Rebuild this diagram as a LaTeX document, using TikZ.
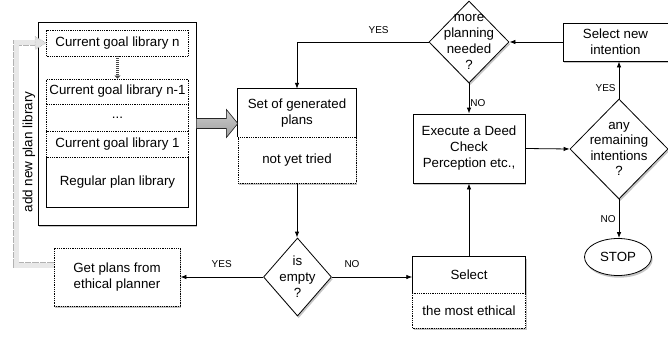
\documentclass[tikz,border=0pt]{standalone}
\usepackage{fontspec}
\setmainfont{Liberation Sans}
\usetikzlibrary{shapes.geometric,arrows.meta,shadows,calc}
\begin{document}
\begin{tikzpicture}[x=1pt,y=-1pt,
  font=\fontsize{13.3}{16}\selectfont,
  >={Latex[length=6pt,width=4.5pt]},
  shad/.style={drop shadow={shadow xshift=1.2pt,shadow yshift=-2.2pt,opacity=0.45}},
  sbox/.style={draw,fill=white,rectangle,inner sep=0,align=center,line width=0.8pt},
  dbox/.style={sbox,densely dotted},
  plain/.style={rectangle,inner sep=0,align=center},
  dia/.style={draw,fill=white,diamond,inner sep=0,line width=0.8pt},
  lbl/.style={font=\fontsize{10}{12}\selectfont,inner sep=0},
  conn/.style={->,line width=0.8pt}]
\useasboundingbox (0,0) rectangle (668,337);

% left library stack
\node[sbox,shad,minimum width=158,minimum height=203] (lib) at (117,123.5) {};
\node[plain,minimum width=142,minimum height=50] (reg) at (117.5,182) {Regular plan library};
\draw[line width=0.8pt] (reg.north west) -- (reg.south west) -- (reg.south east) -- (reg.north east);
\node[dbox,minimum width=142,minimum height=26] (gn) at (117.5,43) {Current goal library n};
\node[dbox,minimum width=142,minimum height=25] (g1n) at (117.5,91.5) {Current goal library n-1};
\node[dbox,minimum width=142,minimum height=27] (gdots) at (117.5,117.5) {...};
\node[dbox,minimum width=142,minimum height=26] (g1) at (117.5,144) {Current goal library 1};
\draw[line width=3.6pt, gray!55!black, dash pattern=on 1pt off 1pt,
      -{Triangle[length=3pt,width=6pt]}] (gn.south) -- (g1n.north);

% add new plan library band
\node[rotate=90,font=\fontsize{13.5}{16}\selectfont] (addlbl) at (29,152) {add new plan library};

% set of generated plans
\node[fill=white,shad,minimum width=118,minimum height=94,inner sep=0] (set) at (297,136) {};
\node[plain,minimum width=118,minimum height=48] (setT) at (297,113) {Set of generated\\plans};
\draw[line width=0.8pt] (setT.south west) -- (setT.north west) -- (setT.north east) -- (setT.south east);
\node[dbox,minimum width=118,minimum height=46] (setB) at (297,160) {not yet tried};

% big arrow
\filldraw[top color=gray!40, bottom color=gray!75, draw=gray!30!black, line width=0.6pt]
  ($(lib.east)+(0,-5)$) -- ($(lib.east)+(30,-5)$) -- ($(lib.east)+(30,-14)$) --
  (setT.west |- lib.east) -- ($(lib.east)+(30,14)$) -- ($(lib.east)+(30,5)$) --
  ($(lib.east)+(0,5)$) -- cycle;

% get plans
\node[dbox,shad,minimum width=126,minimum height=58] (getp) at (117,277) {Get plans from\\ethical planner};
\coordinate (gb1) at ($(getp.west)+(0,-12)$);
\coordinate (gb2) at ($(gn.west)+(-30,0)$);
\coordinate (gb3) at ($(gn.west)+(-10,0)$);
\draw[gray!60, densely dotted, line width=6.4pt] (gb1) -| (gb2) -- (gb3);
\draw[gray!18, line width=5pt] (gb1) -| (gb2) -- (gb3);
\filldraw[fill=gray!22, draw=gray!60, densely dotted, line width=0.6pt]
  ($(gn.west)+(-11,-6.5)$) -- (gn.west) -- ($(gn.west)+(-11,6.5)$) -- cycle;

% select
\node[fill=white,shad,minimum width=113,minimum height=71,inner sep=0] (sel) at (469,292.5) {};
\node[plain,minimum width=113,minimum height=36] (selT) at (469,275) {Select};
\draw[line width=0.8pt] (selT.south west) -- (selT.north west) -- (selT.north east) -- (selT.south east);
\node[dbox,minimum width=113,minimum height=35] (selB) at (469,310.5) {the most ethical};

% execute
\node[sbox,shad,minimum width=112,minimum height=69] (exec) at (469,148.5) {Execute a Deed\\Check\\Perception etc.,};

% select new intention
\node[sbox,shad,minimum width=105,minimum height=38] (sni) at (615.5,42) {Select new\\intention};

% stop
\node[draw,fill=white,ellipse,shad,minimum width=67,minimum height=37,inner sep=0,line width=0.8pt] (stop) at (618,257) {STOP};

% diamonds
\node[dia,shad,minimum width=68,minimum height=78,
  label={[align=center,font=\fontsize{13.3}{16}\selectfont]center:{is\\empty\\?}}] (empty) at (297.5,277) {};
\node[dia,shad,minimum width=80,minimum height=82,
  label={[align=center,font=\fontsize{13.3}{16}\selectfont]center:{more\\planning\\needed\\?}}] (more) at (469,42) {};
\node[dia,shad,minimum width=98,minimum height=100,
  label={[align=center,font=\fontsize{13.3}{15.5}\selectfont]center:{any\\remaining\\intentions\\?}}] (any) at (619,149) {};

% connectors
\draw[conn] (setB.south) -- (setB.south |- empty.north);
\draw[conn] (empty.west) -- (getp.east) node[lbl,midway,above=9pt]{YES};
\draw[conn] (empty.east) -- (empty.east -| sel.west) node[lbl,pos=0.25,above=9pt]{NO};
\draw[conn] (sel.north) -- (exec.south);
\draw[conn] (exec.east) -- (any.west);
\draw[conn] (any.north) -- (any.north |- sni.south) node[lbl,pos=0.29,left=3pt]{YES};
\draw[conn] (any.south) -- (any.south |- stop.north) node[lbl,pos=0.5,left=3pt]{NO};
\draw[conn] (sni.west) -- (more.east);
\draw[conn] (more.west) -| (setT.north) node[lbl,pos=0.19,above=8pt]{YES};
\draw[conn] (more.south) -- (exec.north) node[lbl,pos=0.65,right=1pt]{NO};
\end{tikzpicture}
\end{document}
